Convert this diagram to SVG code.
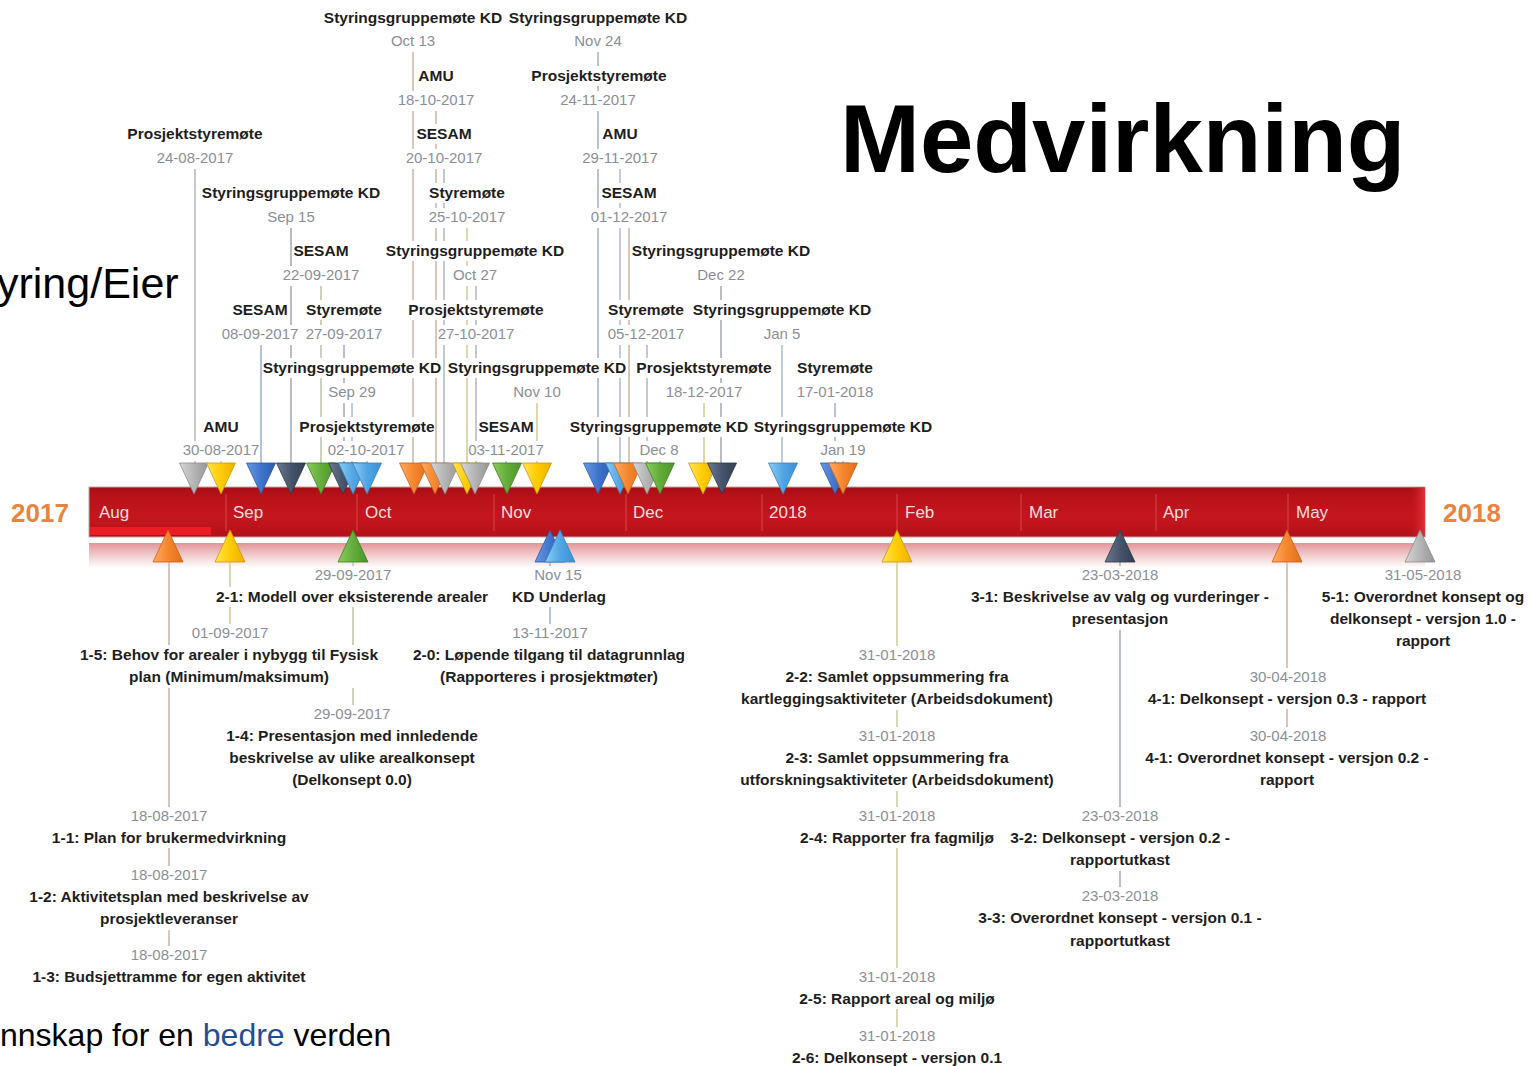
<svg xmlns="http://www.w3.org/2000/svg" width="1530" height="1066" viewBox="0 0 1530 1066">
<defs>
<style>
text{font-family:"Liberation Sans",Arial,sans-serif}
.ti{font-weight:bold;font-size:15.5px;fill:#1e1e1e;text-anchor:middle}
.bl{font-weight:bold;font-size:15.5px;fill:#1e1e1e;text-anchor:middle}
.dt{font-size:15px;fill:#8a8f97;text-anchor:middle}
.mo{font-size:17px;fill:#f6dede}
.yr{font-weight:bold;font-size:26px;fill:#e8843e;text-anchor:middle}
.sep{stroke:#d8454c;stroke-width:1}
.ln{stroke-width:2;fill:none}
.lg{stroke:#c8c8c8}.lo{stroke:#dcc5b6}.ly{stroke:#e0d6ae}.lb{stroke:#b6c2dc}.lc{stroke:#bccde2}.lv{stroke:#b9bdc6}.le{stroke:#c8d4bc}
.mk{stroke-width:0.8}
.gray{fill:url(#gGray);stroke:#8c8c8c}
.yellow{fill:url(#gYellow);stroke:#c99a00}
.blue{fill:url(#gBlue);stroke:#2a55a0}
.navy{fill:url(#gNavy);stroke:#2c3848}
.green{fill:url(#gGreen);stroke:#3f7f22}
.lblue{fill:url(#gLBlue);stroke:#3580c0}
.orange{fill:url(#gOrange);stroke:#c85f18}
</style>
<linearGradient id="gGray" x1="0" y1="0" x2="1" y2="0"><stop offset="0" stop-color="#d6d6d6"/><stop offset="0.5" stop-color="#b4b4b4"/><stop offset="1" stop-color="#959595"/></linearGradient>
<linearGradient id="gYellow" x1="0" y1="0" x2="1" y2="0"><stop offset="0" stop-color="#ffe45a"/><stop offset="0.5" stop-color="#ffcc00"/><stop offset="1" stop-color="#eab000"/></linearGradient>
<linearGradient id="gBlue" x1="0" y1="0" x2="1" y2="0"><stop offset="0" stop-color="#6a9ae6"/><stop offset="0.5" stop-color="#3f74cc"/><stop offset="1" stop-color="#2c5cb0"/></linearGradient>
<linearGradient id="gNavy" x1="0" y1="0" x2="1" y2="0"><stop offset="0" stop-color="#6a7a90"/><stop offset="0.5" stop-color="#46556c"/><stop offset="1" stop-color="#323f54"/></linearGradient>
<linearGradient id="gGreen" x1="0" y1="0" x2="1" y2="0"><stop offset="0" stop-color="#8ccc60"/><stop offset="0.5" stop-color="#64ad3a"/><stop offset="1" stop-color="#4a9528"/></linearGradient>
<linearGradient id="gLBlue" x1="0" y1="0" x2="1" y2="0"><stop offset="0" stop-color="#8accf4"/><stop offset="0.5" stop-color="#52a6e4"/><stop offset="1" stop-color="#3a90d4"/></linearGradient>
<linearGradient id="gOrange" x1="0" y1="0" x2="1" y2="0"><stop offset="0" stop-color="#ffac60"/><stop offset="0.5" stop-color="#f5862e"/><stop offset="1" stop-color="#e06e1c"/></linearGradient>
<linearGradient id="barG" x1="0" y1="0" x2="0" y2="1"><stop offset="0" stop-color="#a60e15"/><stop offset="0.2" stop-color="#b9121a"/><stop offset="0.6" stop-color="#c5161e"/><stop offset="1" stop-color="#b41119"/></linearGradient>
<linearGradient id="endG" x1="0" y1="0" x2="1" y2="0"><stop offset="0" stop-color="#c5161e" stop-opacity="0"/><stop offset="1" stop-color="#e23238"/></linearGradient>
<linearGradient id="bandG" x1="0" y1="0" x2="0" y2="1"><stop offset="0" stop-color="#e19597"/><stop offset="0.5" stop-color="#f2cdce"/><stop offset="1" stop-color="#ffffff"/></linearGradient>
<mask id="lblMask" maskUnits="userSpaceOnUse" x="0" y="0" width="1530" height="1066">
<rect x="0" y="0" width="1530" height="1066" fill="#fff"/>
<g fill="#000">
<rect x="324" y="8" width="178" height="20"/><rect x="509" y="8" width="178" height="20"/>
<rect x="418" y="66" width="36" height="20"/><rect x="531" y="66" width="136" height="20"/>
<rect x="127" y="124" width="136" height="20"/><rect x="416" y="124" width="56" height="20"/><rect x="602" y="124" width="36" height="20"/>
<rect x="202" y="183" width="178" height="20"/><rect x="428" y="183" width="78" height="20"/><rect x="601" y="183" width="56" height="20"/>
<rect x="293" y="241" width="56" height="20"/><rect x="386" y="241" width="178" height="20"/><rect x="632" y="241" width="178" height="20"/>
<rect x="232" y="300" width="56" height="20"/><rect x="305" y="300" width="78" height="20"/><rect x="408" y="300" width="136" height="20"/><rect x="607" y="300" width="78" height="20"/><rect x="693" y="300" width="178" height="20"/>
<rect x="263" y="358" width="178" height="20"/><rect x="448" y="358" width="178" height="20"/><rect x="636" y="358" width="136" height="20"/><rect x="796" y="358" width="78" height="20"/>
<rect x="203" y="417" width="36" height="20"/><rect x="299" y="417" width="136" height="20"/><rect x="478" y="417" width="56" height="20"/><rect x="570" y="417" width="178" height="20"/><rect x="754" y="417" width="178" height="20"/>
<rect x="390" y="32" width="48" height="20"/><rect x="573" y="32" width="52" height="20"/>
<rect x="397" y="91" width="79" height="20"/><rect x="559" y="91" width="79" height="20"/>
<rect x="156" y="149" width="79" height="20"/><rect x="405" y="149" width="79" height="20"/><rect x="581" y="149" width="79" height="20"/>
<rect x="266" y="208" width="50" height="20"/><rect x="428" y="208" width="79" height="20"/><rect x="590" y="208" width="79" height="20"/>
<rect x="282" y="266" width="79" height="20"/><rect x="452" y="266" width="46" height="20"/><rect x="696" y="266" width="52" height="20"/>
<rect x="221" y="325" width="79" height="20"/><rect x="305" y="325" width="79" height="20"/><rect x="437" y="325" width="79" height="20"/><rect x="607" y="325" width="79" height="20"/><rect x="762" y="325" width="40" height="20"/>
<rect x="327" y="383" width="50" height="20"/><rect x="512" y="383" width="50" height="20"/><rect x="665" y="383" width="79" height="20"/><rect x="796" y="383" width="79" height="20"/>
<rect x="182" y="441" width="78" height="20"/><rect x="327" y="441" width="79" height="20"/><rect x="469" y="441" width="76" height="20"/><rect x="639" y="441" width="41" height="20"/><rect x="820" y="441" width="46" height="20"/>
<rect x="314" y="566" width="78" height="21"/><rect x="213" y="587" width="279" height="20"/>
<rect x="534" y="566" width="48" height="21"/><rect x="513" y="587" width="93" height="20"/>
<rect x="191" y="624" width="78" height="21"/><rect x="80" y="645" width="298" height="43"/>
<rect x="511" y="624" width="78" height="21"/><rect x="412" y="645" width="275" height="43"/>
<rect x="313" y="705" width="78" height="21"/><rect x="224" y="726" width="256" height="65"/>
<rect x="130" y="807" width="78" height="21"/><rect x="50" y="828" width="237" height="20"/>
<rect x="130" y="866" width="78" height="21"/><rect x="27" y="887" width="284" height="43"/>
<rect x="130" y="946" width="78" height="21"/><rect x="28" y="967" width="280" height="20"/>
<rect x="858" y="646" width="78" height="21"/><rect x="737" y="667" width="318" height="43"/>
<rect x="858" y="727" width="78" height="21"/><rect x="737" y="748" width="318" height="43"/>
<rect x="858" y="807" width="78" height="21"/><rect x="797" y="828" width="199" height="20"/>
<rect x="858" y="968" width="78" height="21"/><rect x="797" y="989" width="199" height="20"/>
<rect x="858" y="1027" width="78" height="21"/><rect x="790" y="1048" width="212" height="18"/>
<rect x="1081" y="566" width="78" height="21"/><rect x="972" y="587" width="296" height="43"/>
<rect x="1081" y="807" width="78" height="21"/><rect x="1009" y="828" width="223" height="43"/>
<rect x="1081" y="887" width="78" height="21"/><rect x="976" y="908" width="290" height="43"/>
<rect x="1249" y="668" width="78" height="21"/><rect x="1146" y="689" width="281" height="20"/>
<rect x="1249" y="727" width="78" height="21"/><rect x="1143" y="748" width="289" height="43"/>
<rect x="1384" y="566" width="78" height="21"/><rect x="1320" y="587" width="210" height="64"/>
</g>
</mask>
</defs>
<rect x="0" y="0" width="1530" height="1066" fill="#fff"/>

<g id="headings">
<text x="840" y="172" style="font-weight:bold;font-size:96px;fill:#000">Medvirkning</text>
<text x="-3" y="298" style="font-size:43px;fill:#000">yring/Eier</text>
<text x="0" y="1046" style="font-size:32px;fill:#000">nnskap for en <tspan fill="#1f4e99">bedre</tspan> verden</text>
</g>

<g id="timeline">
<rect x="89" y="543" width="1336" height="25" fill="url(#bandG)"/>
<rect x="89" y="487" width="1336" height="50" fill="url(#barG)" stroke="#b9aaaa" stroke-width="1"/>
<rect x="1410" y="487.5" width="15" height="49" fill="url(#endG)"/>
<rect x="90" y="527" width="121" height="8" fill="#ec1c24"/>
<line class="sep" x1="226" y1="494" x2="226" y2="531"/>
<line class="sep" x1="357" y1="494" x2="357" y2="531"/>
<line class="sep" x1="494" y1="494" x2="494" y2="531"/>
<line class="sep" x1="626" y1="494" x2="626" y2="531"/>
<line class="sep" x1="762" y1="494" x2="762" y2="531"/>
<line class="sep" x1="897" y1="494" x2="897" y2="531"/>
<line class="sep" x1="1021" y1="494" x2="1021" y2="531"/>
<line class="sep" x1="1156" y1="494" x2="1156" y2="531"/>
<line class="sep" x1="1288" y1="494" x2="1288" y2="531"/>
<text class="mo" x="99" y="518">Aug</text>
<text class="mo" x="233" y="518">Sep</text>
<text class="mo" x="365" y="518">Oct</text>
<text class="mo" x="501" y="518">Nov</text>
<text class="mo" x="633" y="518">Dec</text>
<text class="mo" x="769" y="518">2018</text>
<text class="mo" x="905" y="518">Feb</text>
<text class="mo" x="1029" y="518">Mar</text>
<text class="mo" x="1163" y="518">Apr</text>
<text class="mo" x="1296" y="518">May</text>
<text class="yr" x="40" y="522">2017</text>
<text class="yr" x="1472" y="522">2018</text>
</g>

<g id="connectors" mask="url(#lblMask)">
<line class="ln lg" x1="195" y1="169" x2="195" y2="464"/>
<line class="ln ly" x1="221" y1="461" x2="221" y2="464"/>
<line class="ln lb" x1="261" y1="345" x2="261" y2="464"/>
<line class="ln lv" x1="291" y1="228" x2="291" y2="464"/>
<line class="ln le" x1="321" y1="286" x2="321" y2="464"/>
<line class="ln lv" x1="344" y1="345" x2="344" y2="464"/>
<line class="ln lc" x1="352" y1="403" x2="352" y2="464"/>
<line class="ln lc" x1="367" y1="461" x2="367" y2="464"/>
<line class="ln lo" x1="413" y1="52" x2="413" y2="464"/>
<line class="ln lo" x1="436" y1="111" x2="436" y2="464"/>
<line class="ln lg" x1="444" y1="169" x2="444" y2="464"/>
<line class="ln ly" x1="467" y1="228" x2="467" y2="464"/>
<line class="ln lg" x1="476" y1="286" x2="476" y2="464"/>
<line class="ln le" x1="506" y1="461" x2="506" y2="464"/>
<line class="ln ly" x1="537" y1="403" x2="537" y2="464"/>
<line class="ln lb" x1="598" y1="52" x2="598" y2="464"/>
<line class="ln lc" x1="620" y1="169" x2="620" y2="464"/>
<line class="ln lo" x1="629" y1="228" x2="629" y2="464"/>
<line class="ln lg" x1="647" y1="345" x2="647" y2="464"/>
<line class="ln le" x1="660" y1="461" x2="660" y2="464"/>
<line class="ln ly" x1="704" y1="403" x2="704" y2="464"/>
<line class="ln lv" x1="721" y1="286" x2="721" y2="464"/>
<line class="ln lc" x1="782" y1="345" x2="782" y2="464"/>
<line class="ln lb" x1="835" y1="403" x2="835" y2="464"/>
<line class="ln lo" x1="843" y1="461" x2="843" y2="464"/>
<line class="ln lo" x1="169" y1="561" x2="169" y2="946"/>
<line class="ln ly" x1="230" y1="561" x2="230" y2="624"/>
<line class="ln le" x1="353" y1="561" x2="353" y2="705"/>
<line class="ln lb" x1="550" y1="561" x2="550" y2="624"/>
<line class="ln ly" x1="897" y1="561" x2="897" y2="1027"/>
<line class="ln lv" x1="1120" y1="561" x2="1120" y2="887"/>
<line class="ln lo" x1="1287" y1="561" x2="1287" y2="727"/>
</g>

<g id="ev-0824"><polygon class="mk gray" points="179.5,463 208.5,463 194,494"/><text class="ti" x="195" y="139">Prosjektstyremøte</text><text class="dt" x="195" y="163">24-08-2017</text></g>
<g id="ev-0830"><polygon class="mk yellow" points="206.5,463 235.5,463 221,494"/><text class="ti" x="221" y="432">AMU</text><text class="dt" x="221" y="455">30-08-2017</text></g>
<g id="ev-0908"><polygon class="mk blue" points="246.5,463 275.5,463 261,494"/><text class="ti" x="260" y="315">SESAM</text><text class="dt" x="260" y="339">08-09-2017</text></g>
<g id="ev-0915"><polygon class="mk navy" points="276.5,463 305.5,463 291,494"/><text class="ti" x="291" y="198">Styringsgruppemøte KD</text><text class="dt" x="291" y="222">Sep 15</text></g>
<g id="ev-0922"><polygon class="mk green" points="306.5,463 335.5,463 321,494"/><text class="ti" x="321" y="256">SESAM</text><text class="dt" x="321" y="280">22-09-2017</text></g>
<g id="ev-0927"><polygon class="mk navy" points="328.5,463 357.5,463 343,494"/><text class="ti" x="344" y="315">Styremøte</text><text class="dt" x="344" y="339">27-09-2017</text></g>
<g id="ev-0929"><polygon class="mk lblue" points="338.5,463 367.5,463 353,494"/><text class="ti" x="352" y="373">Styringsgruppemøte KD</text><text class="dt" x="352" y="397">Sep 29</text></g>
<g id="ev-1002"><polygon class="mk lblue" points="352.5,463 381.5,463 367,494"/><text class="ti" x="367" y="432">Prosjektstyremøte</text><text class="dt" x="366" y="455">02-10-2017</text></g>
<g id="ev-1013"><polygon class="mk orange" points="399.5,463 428.5,463 414,494"/><text class="ti" x="413" y="23">Styringsgruppemøte KD</text><text class="dt" x="413" y="46">Oct 13</text></g>
<g id="ev-1018"><polygon class="mk orange" points="420.5,463 449.5,463 435,494"/><text class="ti" x="436" y="81">AMU</text><text class="dt" x="436" y="105">18-10-2017</text></g>
<g id="ev-1020"><polygon class="mk gray" points="430.5,463 459.5,463 445,494"/><text class="ti" x="444" y="139">SESAM</text><text class="dt" x="444" y="163">20-10-2017</text></g>
<g id="ev-1025"><polygon class="mk yellow" points="452.5,463 481.5,463 467,494"/><text class="ti" x="467" y="198">Styremøte</text><text class="dt" x="467" y="222">25-10-2017</text></g>
<g id="ev-1027a"><text class="ti" x="476" y="315">Prosjektstyremøte</text><text class="dt" x="476" y="339">27-10-2017</text></g>
<g id="ev-1027"><polygon class="mk gray" points="460.5,463 489.5,463 475,494"/><text class="ti" x="475" y="256">Styringsgruppemøte KD</text><text class="dt" x="475" y="280">Oct 27</text></g>
<g id="ev-1103"><polygon class="mk green" points="492.5,463 521.5,463 507,494"/><text class="ti" x="506" y="432">SESAM</text><text class="dt" x="506" y="455">03-11-2017</text></g>
<g id="ev-1110"><polygon class="mk yellow" points="522.5,463 551.5,463 537,494"/><text class="ti" x="537" y="373">Styringsgruppemøte KD</text><text class="dt" x="537" y="397">Nov 10</text></g>
<g id="ev-1124a"><text class="ti" x="599" y="81">Prosjektstyremøte</text><text class="dt" x="598" y="105">24-11-2017</text></g>
<g id="ev-1124"><polygon class="mk blue" points="583.5,463 612.5,463 598,494"/><text class="ti" x="598" y="23">Styringsgruppemøte KD</text><text class="dt" x="598" y="46">Nov 24</text></g>
<g id="ev-1129"><polygon class="mk lblue" points="605.5,463 634.5,463 620,494"/><text class="ti" x="620" y="139">AMU</text><text class="dt" x="620" y="163">29-11-2017</text></g>
<g id="ev-1201"><polygon class="mk orange" points="613.5,463 642.5,463 628,494"/><text class="ti" x="629" y="198">SESAM</text><text class="dt" x="629" y="222">01-12-2017</text></g>
<g id="ev-1205"><polygon class="mk gray" points="632.5,463 661.5,463 647,494"/><text class="ti" x="646" y="315">Styremøte</text><text class="dt" x="646" y="339">05-12-2017</text></g>
<g id="ev-1208"><polygon class="mk green" points="645.5,463 674.5,463 660,494"/><text class="ti" x="659" y="432">Styringsgruppemøte KD</text><text class="dt" x="659" y="455">Dec 8</text></g>
<g id="ev-1218"><polygon class="mk yellow" points="688.5,463 717.5,463 703,494"/><text class="ti" x="704" y="373">Prosjektstyremøte</text><text class="dt" x="704" y="397">18-12-2017</text></g>
<g id="ev-1222"><polygon class="mk navy" points="707.5,463 736.5,463 722,494"/><text class="ti" x="721" y="256">Styringsgruppemøte KD</text><text class="dt" x="721" y="280">Dec 22</text></g>
<g id="ev-0105"><polygon class="mk lblue" points="768.5,463 797.5,463 783,494"/><text class="ti" x="782" y="315">Styringsgruppemøte KD</text><text class="dt" x="782" y="339">Jan 5</text></g>
<g id="ev-0117"><polygon class="mk blue" points="820.5,463 849.5,463 835,494"/><text class="ti" x="835" y="373">Styremøte</text><text class="dt" x="835" y="397">17-01-2018</text></g>
<g id="ev-0119"><polygon class="mk orange" points="828.5,463 857.5,463 843,494"/><text class="ti" x="843" y="432">Styringsgruppemøte KD</text><text class="dt" x="843" y="455">Jan 19</text></g>

<g id="dl-0818"><polygon class="mk orange" points="153,562 183,562 168,530"/>
<text class="dt" x="169" y="821">18-08-2017</text><text class="bl" x="169" y="843">1-1: Plan for brukermedvirkning</text>
<text class="dt" x="169" y="880">18-08-2017</text><text class="bl" x="169" y="902">1-2: Aktivitetsplan med beskrivelse av</text><text class="bl" x="169" y="924">prosjektleveranser</text>
<text class="dt" x="169" y="960">18-08-2017</text><text class="bl" x="169" y="982">1-3: Budsjettramme for egen aktivitet</text></g>
<g id="dl-0901"><polygon class="mk yellow" points="215,562 245,562 230,530"/>
<text class="dt" x="230" y="638">01-09-2017</text><text class="bl" x="229" y="660">1-5: Behov for arealer i nybygg til Fysisk</text><text class="bl" x="229" y="682">plan (Minimum/maksimum)</text></g>
<g id="dl-0929"><polygon class="mk green" points="338,562 368,562 353,530"/>
<text class="dt" x="353" y="580">29-09-2017</text><text class="bl" x="352" y="602">2-1: Modell over eksisterende arealer</text>
<text class="dt" x="352" y="719">29-09-2017</text><text class="bl" x="352" y="741">1-4: Presentasjon med innledende</text><text class="bl" x="352" y="763">beskrivelse av ulike arealkonsept</text><text class="bl" x="352" y="785">(Delkonsept 0.0)</text></g>
<g id="dl-1113"><polygon class="mk blue" points="535,562 565,562 550,530"/>
<text class="dt" x="550" y="638">13-11-2017</text><text class="bl" x="549" y="660">2-0: Løpende tilgang til datagrunnlag</text><text class="bl" x="549" y="682">(Rapporteres i prosjektmøter)</text></g>
<g id="dl-1115"><polygon class="mk lblue" points="545,562 575,562 560,530"/>
<text class="dt" x="558" y="580">Nov 15</text><text class="bl" x="559" y="602">KD Underlag</text></g>
<g id="dl-0131"><polygon class="mk yellow" points="882,562 912,562 897,530"/>
<text class="dt" x="897" y="660">31-01-2018</text><text class="bl" x="897" y="682">2-2: Samlet oppsummering fra</text><text class="bl" x="897" y="704">kartleggingsaktiviteter (Arbeidsdokument)</text>
<text class="dt" x="897" y="741">31-01-2018</text><text class="bl" x="897" y="763">2-3: Samlet oppsummering fra</text><text class="bl" x="897" y="785">utforskningsaktiviteter (Arbeidsdokument)</text>
<text class="dt" x="897" y="821">31-01-2018</text><text class="bl" x="897" y="843">2-4: Rapporter fra fagmiljø</text>
<text class="dt" x="897" y="982">31-01-2018</text><text class="bl" x="897" y="1004">2-5: Rapport areal og miljø</text>
<text class="dt" x="897" y="1041">31-01-2018</text><text class="bl" x="897" y="1063">2-6: Delkonsept - versjon 0.1</text></g>
<g id="dl-0323"><polygon class="mk navy" points="1105,562 1135,562 1120,530"/>
<text class="dt" x="1120" y="580">23-03-2018</text><text class="bl" x="1120" y="602">3-1: Beskrivelse av valg og vurderinger -</text><text class="bl" x="1120" y="624">presentasjon</text>
<text class="dt" x="1120" y="821">23-03-2018</text><text class="bl" x="1120" y="843">3-2: Delkonsept - versjon 0.2 -</text><text class="bl" x="1120" y="865">rapportutkast</text>
<text class="dt" x="1120" y="901">23-03-2018</text><text class="bl" x="1120" y="923">3-3: Overordnet konsept - versjon 0.1 -</text><text class="bl" x="1120" y="946">rapportutkast</text></g>
<g id="dl-0430"><polygon class="mk orange" points="1272,562 1302,562 1287,530"/>
<text class="dt" x="1288" y="682">30-04-2018</text><text class="bl" x="1287" y="704">4-1: Delkonsept - versjon 0.3 - rapport</text>
<text class="dt" x="1288" y="741">30-04-2018</text><text class="bl" x="1287" y="763">4-1: Overordnet konsept - versjon 0.2 -</text><text class="bl" x="1287" y="785">rapport</text></g>
<g id="dl-0531"><polygon class="mk gray" points="1405,562 1435,562 1420,530"/>
<text class="dt" x="1423" y="580">31-05-2018</text><text class="bl" x="1423" y="602">5-1: Overordnet konsept og</text><text class="bl" x="1423" y="624">delkonsept - versjon 1.0 -</text><text class="bl" x="1423" y="646">rapport</text></g>
</svg>
